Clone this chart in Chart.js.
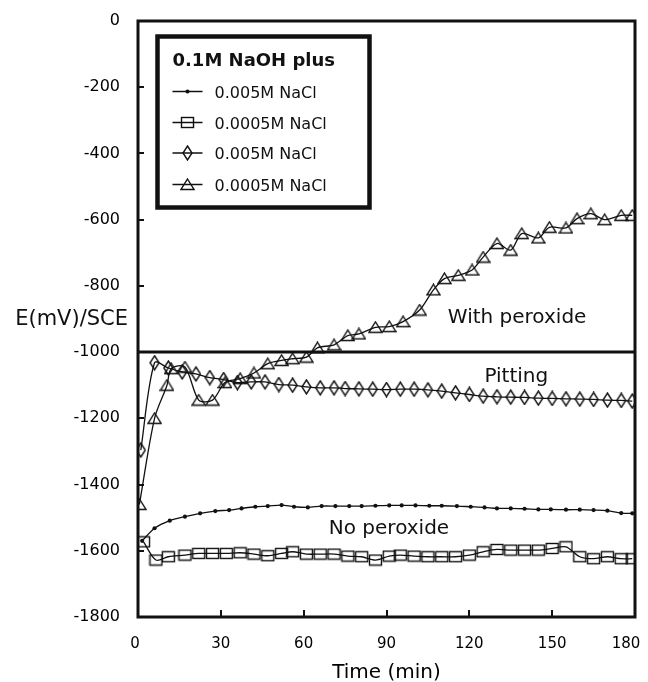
<!DOCTYPE html>
<html><head><meta charset="utf-8">
<script src="https://cdn.jsdelivr.net/npm/chart.js@4/dist/chart.umd.min.js"></script>
<style>html,body{margin:0;padding:0;background:#fff}#wrap{width:648px;height:682px;position:relative}</style>
</head><body><div id="wrap"><canvas id="c" width="648" height="682"></canvas></div>
<script>
// ---- data ----
const xTicks = [0, 30, 60, 90, 120, 150, 180];
const yTicks = [0, -200, -400, -600, -800, -1000, -1200, -1400, -1600, -1800];
const pittingLevel = -1000;

// 0.005M NaCl, no peroxide (small dots)
const tDots = [1.5,6,11.5,17,22.5,28,33,37.5,42.5,47,52,56.5,61.5,66.5,71.5,76.5,81,86,91,95.5,100.5,105.5,110,115.5,120.5,125.5,130,135,140,145,149.5,155,160,165,170,175,179];
const eDots = [-1570,-1532,-1509,-1497,-1487,-1480,-1477,-1472,-1467,-1465,-1462,-1467,-1469,-1465,-1465,-1465,-1465,-1464,-1463,-1463,-1463,-1464,-1464,-1465,-1467,-1469,-1472,-1472,-1473,-1475,-1475,-1476,-1476,-1477,-1479,-1486,-1487];

// 0.0005M NaCl, no peroxide (squares)
const tSquares = [2,6.5,11,17,22,27,32,37,42,47,52,56,61,66,71,76,81,86,91,95,100,105,110,115,120,125,130,135,140,145,150,155,160,165,170,175,179];
const eSquares = [-1573,-1628,-1618,-1613,-1608,-1608,-1608,-1606,-1610,-1615,-1608,-1603,-1610,-1610,-1610,-1616,-1618,-1628,-1616,-1613,-1616,-1618,-1618,-1618,-1613,-1603,-1596,-1598,-1598,-1598,-1593,-1588,-1618,-1624,-1618,-1624,-1624];

// 0.005M NaCl, with peroxide (diamonds)
const tDiamonds = [1,6,11,16,21,26,31,36,41,46,51,56,61,66,71,75,80,85,90,95,100,105,110,115,120,125,130,135,140,145,150,155,160,165,170,175,179];
const eDiamonds = [-1296,-1032,-1048,-1060,-1066,-1077,-1083,-1092,-1090,-1090,-1098,-1100,-1105,-1108,-1108,-1110,-1111,-1112,-1113,-1112,-1112,-1114,-1118,-1123,-1128,-1133,-1135,-1136,-1137,-1139,-1140,-1141,-1142,-1143,-1145,-1146,-1148];

// 0.0005M NaCl, with peroxide (triangles)
const tTriangles = [0.5,6,10.5,12,17,22,27,31.5,37,42,47,52,56,61,65,71,76,80,86,91,96,102,107,111,116,121,125,130,135,139,145,149,155,159,164,169,175,179];
const eTriangles = [-1460,-1200,-1100,-1050,-1045,-1145,-1145,-1092,-1080,-1063,-1035,-1025,-1020,-1015,-987,-978,-950,-945,-925,-923,-908,-873,-812,-778,-768,-752,-713,-672,-692,-642,-655,-623,-625,-597,-582,-600,-587,-587];

const legendTitle = '0.1M NaOH plus';
const seriesLabels = ['0.005M NaCl', '0.0005M NaCl', '0.005M NaCl', '0.0005M NaCl'];
const notes = [
  {text: 'With peroxide', t: 137.3, e: -912},
  {text: 'Pitting', t: 137, e: -1090},
  {text: 'No peroxide', t: 90.9, e: -1549}
];
const yTitle = 'E(mV)/SCE';
const yTitleAt = -918;

// ---- marker images ----
function mk(w, h, draw) {
  const c = document.createElement('canvas'); c.width = w; c.height = h;
  const g = c.getContext('2d'); g.strokeStyle = '#111'; g.lineWidth = 1.4; draw(g, w, h); return c;
}
const squareMk = mk(15, 13, (g, w, h) => { g.strokeRect(1.5, 1.5, w - 3, h - 3); });
const diamondMk = mk(11, 16, (g, w, h) => { g.beginPath(); g.moveTo(w/2, 1); g.lineTo(w - 1, h/2); g.lineTo(w/2, h - 1); g.lineTo(1, h/2); g.closePath(); g.stroke(); });
const triangleMk = mk(15, 13, (g, w, h) => { g.beginPath(); g.moveTo(w/2, 1); g.lineTo(w - 1, h - 1.5); g.lineTo(1, h - 1.5); g.closePath(); g.stroke(); });

const pts = (ts, es) => ts.map((t, i) => ({x: t, y: es[i]}));
const FONT = "'DejaVu Sans', Verdana, sans-serif";
const INK = '#111';

const lineBase = {borderColor: INK, borderWidth: 1.3, tension: 0.3, fill: false};
const datasets = [
  Object.assign({label: seriesLabels[0], data: pts(tDots, eDots), pointStyle: 'circle', pointRadius: 2.1, pointBackgroundColor: INK, pointBorderColor: INK, pointBorderWidth: 0}, lineBase),
  Object.assign({label: seriesLabels[1], data: pts(tSquares, eSquares), pointStyle: squareMk, pointRadius: 6}, lineBase),
  Object.assign({label: seriesLabels[2], data: pts(tDiamonds, eDiamonds), pointStyle: diamondMk, pointRadius: 6}, lineBase),
  Object.assign({label: seriesLabels[3], data: pts(tTriangles, eTriangles), pointStyle: triangleMk, pointRadius: 6}, lineBase),
  {label: 'pitting', data: [{x: xTicks[0], y: pittingLevel}, {x: xTicks[xTicks.length - 1], y: pittingLevel}], borderColor: INK, borderWidth: 3, pointRadius: 0, tension: 0}
];

const decor = {
  id: 'decor',
  beforeDraw(chart) {
    // nudge the edge tick labels of the x axis so they stay inside the picture, as in the reference
    const xs = chart.scales.x;
    const items = xs.getLabelItems(chart.chartArea);
    if (items && items.length) {
      items[0].options.translation[0] -= 3;
      items[items.length - 1].options.translation[0] -= 9;
    }
  },
  afterDatasetsDraw(chart) {
    const ctx = chart.ctx, a = chart.chartArea, xs = chart.scales.x, ys = chart.scales.y;
    ctx.save();
    // inward ticks
    ctx.strokeStyle = INK; ctx.lineWidth = 2;
    xTicks.slice(1, -1).forEach(v => { const px = Math.round(xs.getPixelForValue(v)); ctx.beginPath(); ctx.moveTo(px, a.bottom); ctx.lineTo(px, a.bottom - 7); ctx.stroke(); });
    yTicks.slice(1, -1).forEach(v => { const py = Math.round(ys.getPixelForValue(v)); ctx.beginPath(); ctx.moveTo(a.left, py); ctx.lineTo(a.left + 6, py); ctx.stroke(); });
    // frame
    ctx.lineWidth = 3; ctx.strokeRect(a.left, a.top, a.right - a.left, a.bottom - a.top);
    // notes
    ctx.fillStyle = INK; ctx.font = '20px ' + FONT; ctx.textAlign = 'center'; ctx.textBaseline = 'alphabetic';
    notes.forEach(n => ctx.fillText(n.text, xs.getPixelForValue(n.t), ys.getPixelForValue(n.e)));
    // y title
    ctx.textAlign = 'right';
    ctx.font = '21px ' + FONT;
    ctx.fillText(yTitle, a.left - 10, ys.getPixelForValue(yTitleAt));
    // legend
    const L = a.left + 19.5, T = a.top + 15.5, W = 212, H = 171;
    ctx.fillStyle = '#fff'; ctx.fillRect(L, T, W, H);
    ctx.lineWidth = 4.5; ctx.strokeStyle = INK; ctx.strokeRect(L, T, W, H);
    ctx.fillStyle = INK; ctx.textAlign = 'left';
    ctx.font = 'bold 18px ' + FONT;
    ctx.fillText(legendTitle, L + 15, T + 29);
    ctx.font = '16px ' + FONT;
    const rows = [55, 86, 116.5, 148];
    chart.data.datasets.slice(0, 4).forEach((ds, i) => {
      const cy = T + rows[i];
      ctx.strokeStyle = INK; ctx.lineWidth = 1.5;
      ctx.beginPath(); ctx.moveTo(L + 15, cy); ctx.lineTo(L + 45, cy); ctx.stroke();
      const cx = L + 30;
      if (typeof ds.pointStyle === 'string') {
        ctx.beginPath(); ctx.arc(cx, cy, 2.1, 0, Math.PI * 2); ctx.fill();
      } else {
        ctx.drawImage(ds.pointStyle, cx - ds.pointStyle.width / 2, cy - ds.pointStyle.height / 2);
      }
      ctx.fillText(ds.label, L + 57, cy + 6);
    });
    ctx.restore();
  }
};

new Chart(document.getElementById('c'), {
  type: 'line',
  data: {datasets},
  options: {
    responsive: false, animation: false, events: [],
    layout: {padding: {top: 21, right: 13, left: 0, bottom: 0}, autoPadding: false},
    plugins: {legend: {display: false}, tooltip: {enabled: false}},
    scales: {
      x: {
        type: 'linear', min: 0, max: 180,
        afterBuildTicks: s => { s.ticks = xTicks.map(v => ({value: v})); },
        afterFit: s => { s.height = 65; s.paddingLeft = 0; s.paddingRight = 0; },
        grid: {display: false}, border: {display: false},
        ticks: {font: {family: FONT, size: 15}, color: '#000', padding: 10, maxRotation: 0, autoSkip: false, callback: v => String(v)},
        title: {display: true, text: 'Time (min)', font: {family: FONT, size: 20}, color: '#000', padding: {top: 0, bottom: -3}}
      },
      y: {
        type: 'linear', min: -1800, max: 0,
        afterBuildTicks: s => { s.ticks = yTicks.map(v => ({value: v})); },
        afterFit: s => { s.width = 138; s.paddingTop = 0; s.paddingBottom = 0; },
        grid: {display: false}, border: {display: false},
        ticks: {font: {family: FONT, size: 16}, color: '#000', padding: 10, autoSkip: false, callback: v => String(v)}
      }
    }
  },
  plugins: [decor]
});
</script></body></html>
